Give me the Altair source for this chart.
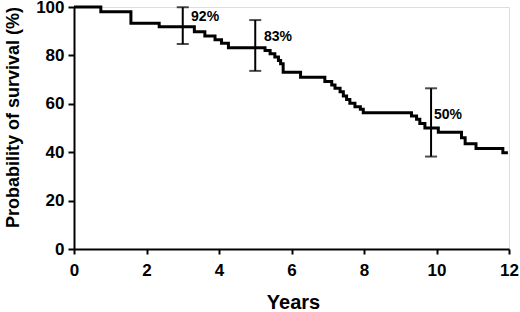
import altair as alt
import pandas as pd

# Kaplan-Meier step curve (time in years, survival %)
years = [0, 0.74, 1.57, 2.35, 3.32, 3.61, 3.89, 4.07, 4.26, 5.27, 5.41, 5.54,
         5.64, 5.70, 5.77, 6.25, 6.92, 7.11, 7.20, 7.34, 7.43, 7.52, 7.61,
         7.75, 7.90, 7.98, 9.31, 9.45, 9.54, 9.68, 10.05, 10.69, 10.79, 11.09,
         11.83, 11.97]
survival = [100, 98.0, 93.3, 91.8, 89.8, 88.0, 86.5, 85.0, 83.2, 82.0, 80.7, 79.3,
            77.9, 76.5, 73.0, 71.0, 69.2, 67.8, 66.4, 65.0, 63.2, 61.8, 60.2,
            58.8, 57.7, 56.3, 55.0, 53.6, 51.9, 50.0, 48.2, 46.0, 43.5, 41.5,
            39.8, 39.8]

# Confidence intervals
ci_years = [3.0, 5.0, 9.85]
ci_low = [84.7, 73.6, 38.2]
ci_high = [99.9, 94.6, 66.4]

# Annotations
label_years = [3.23, 5.24, 9.93]
label_values = [95.9, 87.6, 55.4]
label_texts = ["92%", "83%", "50%"]

FONT = "Liberation Sans"

curve = pd.DataFrame({"t": years, "s": survival})
ci = pd.DataFrame({"t": ci_years, "lo": ci_low, "hi": ci_high})
labels = pd.DataFrame({"t": label_years, "s": label_values, "txt": label_texts})

xscale = alt.Scale(domain=[0, 12], nice=False)
yscale = alt.Scale(domain=[0, 100], nice=False)

xaxis = alt.Axis(values=[0, 2, 4, 6, 8, 10, 12], format="d", title="Years",
                 grid=False, domainColor="black", domainWidth=2, tickColor="black",
                 tickWidth=2, tickSize=5, labelPadding=8, labelFontSize=17,
                 labelFont=FONT, labelFontWeight="bold", labelColor="black",
                 titleFont=FONT, titleFontSize=20, titleFontWeight="bold",
                 titleColor="black", titleX=219, titleY=59, titleBaseline="alphabetic",
                 titleAlign="center", labelFlush=False)
yaxis = alt.Axis(values=[0, 20, 40, 60, 80, 100], title="Probability of survival (%)",
                 grid=False, domainColor="black", domainWidth=2, tickColor="black",
                 tickWidth=2, tickSize=6, labelPadding=4, labelFontSize=17,
                 labelFont=FONT, labelFontWeight="bold", labelColor="black",
                 titleFont=FONT, titleFontSize=18, titleFontWeight="bold",
                 titleColor="black", titleX=-56, titleY=110, titleAngle=-90,
                 titleBaseline="alphabetic", titleAlign="center", labelFlush=False)

line = alt.Chart(curve).mark_line(interpolate="step-after", color="black",
                                  strokeWidth=3).encode(
    x=alt.X("t:Q", scale=xscale, axis=xaxis),
    y=alt.Y("s:Q", scale=yscale, axis=yaxis),
)

bars = alt.Chart(ci).mark_rule(color="black", strokeWidth=2).encode(
    x="t:Q", y="lo:Q", y2="hi:Q")
cap_lo = alt.Chart(ci).mark_tick(color="black", orient="horizontal", size=12,
                                 thickness=2).encode(x="t:Q", y="lo:Q")
cap_hi = alt.Chart(ci).mark_tick(color="black", orient="horizontal", size=12,
                                 thickness=2).encode(x="t:Q", y="hi:Q")

text = alt.Chart(labels).mark_text(align="left", baseline="middle", font=FONT,
                                   fontSize=14, fontWeight="bold", color="black").encode(
    x="t:Q", y="s:Q", text="txt:N")

chart = alt.layer(line, bars, cap_lo, cap_hi, text).properties(
    width=435, height=242,
    autosize=alt.AutoSizeParams(type="none"),
    padding={"left": 74, "top": 7, "right": 11, "bottom": 63},
).configure_view(stroke=None).configure(background="white")

chart.save("out.html", embed_options={"renderer": "svg", "actions": False})
